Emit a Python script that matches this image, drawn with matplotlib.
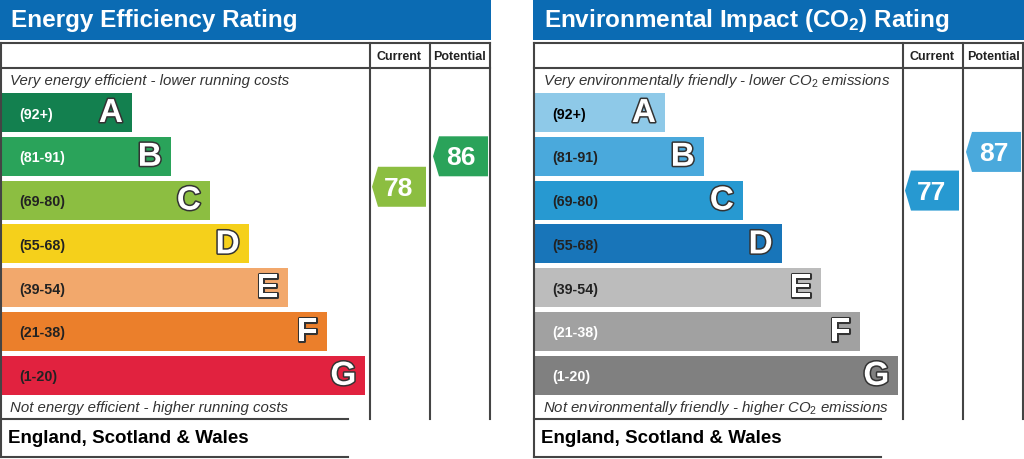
import matplotlib
matplotlib.use('Agg')
import matplotlib.pyplot as plt
import matplotlib.patheffects as pe
from matplotlib.patches import Rectangle, Polygon
import numpy as np

plt.rcParams['font.family'] = ['Liberation Sans', 'DejaVu Sans']
plt.rcParams['mathtext.fontset'] = 'custom'
plt.rcParams['mathtext.rm'] = 'Liberation Sans'
plt.rcParams['mathtext.it'] = 'Liberation Sans:italic'
plt.rcParams['mathtext.bf'] = 'Liberation Sans:bold'

# data
bands = ['A', 'B', 'C', 'D', 'E', 'F', 'G']
ranges = ['(92+)', '(81-91)', '(69-80)', '(55-68)', '(39-54)', '(21-38)', '(1-20)']
band_mid = [96, 86, 74.5, 61.5, 46.5, 29.5, 10.5]

energy_colors = ['#13804f', '#2aa35a', '#8cbe41', '#f5d01b', '#f2a86c', '#eb7f2b', '#e1223f']
energy_label_colors = ['white', 'white', '#222222', '#222222', '#222222', '#222222', '#222222']
energy_current = 78
energy_potential = 86

co2_colors = ['#8ec9e8', '#4aa9dc', '#2799d1', '#1875b9', '#bcbcbc', '#a1a1a1', '#808080']
co2_label_colors = ['black', '#222222', '#222222', '#222222', '#222222', 'white', 'white']
co2_current = 77
co2_potential = 87

header_blue = '#0b6bb3'
border = '#444444'

fig = plt.figure(figsize=(10.24, 4.6), dpi=100)
ax = fig.add_axes([0, 0, 1, 1])
ax.set_xlim(0, 1024)
ax.set_ylim(460, 0)
ax.axis('off')

bar_top = 94
bar_step = 43.8
bar_h = 39
bar_w0 = 130
bar_dw = 38.9
band_centers = [bar_top + i * bar_step + bar_h / 2 for i in range(len(bands))]


def rating_band(v):
    lows = [92, 81, 69, 55, 39, 21, 1]
    for i, lo in enumerate(lows):
        if v >= lo:
            return i
    return len(bands) - 1


def arrow(x0, x1, v, colors):
    # arrow pointing left, height follows the rating value
    yc = np.interp(v, band_mid[::-1], band_centers[::-1])
    h = 40
    tip = 6
    c = colors[rating_band(v)]
    pts = [(x0, yc), (x0 + tip, yc - h / 2), (x1, yc - h / 2), (x1, yc + h / 2), (x0 + tip, yc + h / 2)]
    ax.add_patch(Polygon(pts, closed=True, facecolor=c, edgecolor='none'))
    ax.text((x0 + x1) / 2, yc + 1, str(v), color='white', fontsize=19,
            fontweight='bold', ha='center', va='center')


def panel(x0, title, top_text, bottom_text, colors, label_colors, current, potential):
    # title bar
    ax.add_patch(Rectangle((x0, 0), 491, 41, facecolor=header_blue, edgecolor='none'))
    ax.text(x0 + 11, 21, title, color='white', fontsize=17.5, fontweight='bold', va='center')

    # table lines
    lw = 1.5
    top, head_bot, bot = 44, 69, 420
    ax.plot([x0 + 1, x0 + 490], [top, top], color=border, lw=lw)
    ax.plot([x0 + 1, x0 + 490], [head_bot, head_bot], color=border, lw=lw)
    ax.plot([x0 + 1, x0 + 1], [top, 458], color=border, lw=lw)
    for xx in (370, 430, 490):
        ax.plot([x0 + xx, x0 + xx], [top, bot], color=border, lw=lw)
    ax.plot([x0 + 1, x0 + 348], [bot, bot], color=border, lw=lw)
    ax.plot([x0 + 1, x0 + 348], [458, 458], color=border, lw=lw)

    ax.text(x0 + 399, 57, 'Current', fontsize=9, fontweight='bold', ha='center', va='center', color='#222222')
    ax.text(x0 + 460, 57, 'Potential', fontsize=9, fontweight='bold', ha='center', va='center', color='#222222')

    ax.text(x0 + 10, 81, top_text, fontsize=10.8, style='italic', va='center', color='#333333')
    ax.text(x0 + 10, 408, bottom_text, fontsize=10.8, style='italic', va='center', color='#333333')

    # bands
    for i, (b, r) in enumerate(zip(bands, ranges)):
        y = bar_top + i * bar_step
        w = bar_w0 + i * bar_dw
        ax.add_patch(Rectangle((x0 + 2, y), w, bar_h, facecolor=colors[i], edgecolor='none'))
        ax.text(x0 + 19, y + bar_h / 2 + 1, r, fontsize=10.3, fontweight='bold', va='center',
                color=label_colors[i])
        t = ax.text(x0 + 2 + w - 9, y + bar_h / 2 + 1, b, fontsize=24, fontweight='bold',
                    ha='right', va='center', color='white')
        t.set_path_effects([pe.Stroke(linewidth=2.2, foreground='#333333'), pe.Normal()])

    arrow(x0 + 372, x0 + 426, current, colors)
    arrow(x0 + 433, x0 + 488, potential, colors)

    ax.text(x0 + 8, 439, 'England, Scotland & Wales', fontsize=13.5, fontweight='bold',
            va='center', color='black')


panel(0, 'Energy Efficiency Rating',
      'Very energy efficient - lower running costs',
      'Not energy efficient - higher running costs',
      energy_colors, energy_label_colors, energy_current, energy_potential)

panel(533, r'Environmental Impact (CO$_\mathbf{2}$) Rating',
      r'Very environmentally friendly - lower CO$_2$ emissions',
      r'Not environmentally friendly - higher CO$_2$ emissions',
      co2_colors, co2_label_colors, co2_current, co2_potential)

fig.savefig('out.png', dpi=100)
